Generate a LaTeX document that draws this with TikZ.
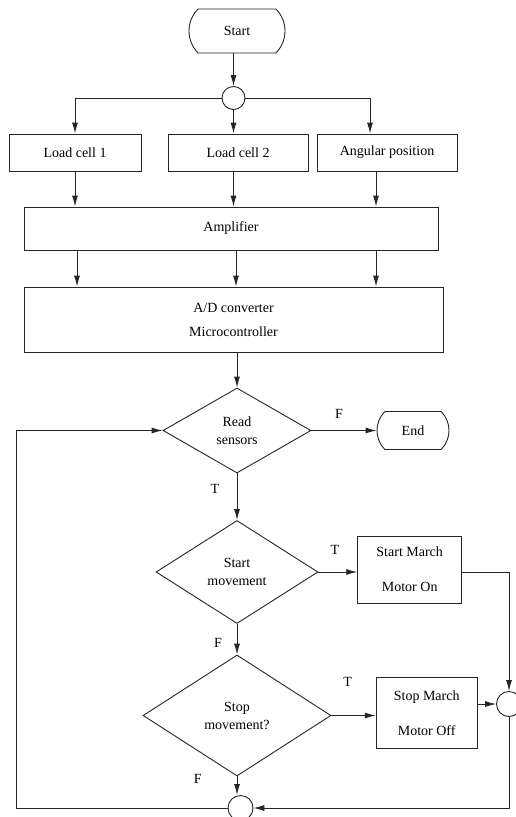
\documentclass[tikz,border=0pt]{standalone}
\usepackage{fontspec}
\setmainfont{Liberation Serif}
\usetikzlibrary{shapes.geometric,shapes.misc,arrows.meta}
\begin{document}
\begin{tikzpicture}[x=1pt,y=-1pt,
  every node/.style={font=\fontsize{14}{18}\selectfont, text=black},
  line/.style={draw=black!85, line width=0.9pt},
  arr/.style={line, -{Latex[length=11pt,width=6pt]}},
  term/.style={rounded rectangle, rounded rectangle arc length=90, draw=black!85, line width=0.9pt, inner sep=0pt},
  box/.style={rectangle, draw=black!85, line width=0.9pt, inner sep=0pt, align=center},
  dec/.style={diamond, draw=black!85, line width=0.9pt, inner sep=0pt, align=center},
  junc/.style={circle, draw=black!85, line width=0.9pt, inner sep=0pt},
  lbl/.style={inner sep=0pt}
]
\useasboundingbox (0,0) rectangle (516,817);

\node[term, minimum width=96pt, minimum height=44pt] (start) at (237,31) {Start};
\node[junc, minimum size=23pt] (j1) at (233.5,98) {};
\node[box, minimum width=132pt, minimum height=37pt] (lc1) at (75,152.5) {Load cell 1};
\node[box, minimum width=140pt, minimum height=37pt] (lc2) at (238,152.5) {Load cell 2};
\node[box, minimum width=140pt, minimum height=37pt] (ang) at (387,152.5) {Angular position};
\node[box, minimum width=414pt, minimum height=43pt] (amp) at (231,228.5) {Amplifier};
\node[box, minimum width=419pt, minimum height=65pt] (adc) at (233.5,319.5) {A/D converter\\[6pt]Microcontroller};
\node[dec, minimum width=148pt, minimum height=85pt] (d1) at (237,430.5) {Read\\sensors};
\node[term, minimum width=72pt, minimum height=38pt] (end) at (413,430.5) {End};
\node[dec, minimum width=162pt, minimum height=103pt] (d2) at (237,572) {Start\\movement};
\node[box, minimum width=104pt, minimum height=67pt] (sm) at (409.7,569.7) {Start March\\[17pt]Motor On};
\node[dec, minimum width=188pt, minimum height=121pt] (d3) at (237,715.5) {Stop\\movement?};
\node[box, minimum width=101pt, minimum height=71pt] (stp) at (426.7,713.3) {Stop March\\[17pt]Motor Off};
\node[junc, minimum size=25pt] (jr) at (509,704) {};
\node[junc, minimum size=25pt] (jb) at (240.5,808) {};
\coordinate (loop) at (16.7,808);

\node[lbl] (f1) at (339,414) {F};
\node[lbl] (t1) at (215,489) {T};
\node[lbl] (t2) at (335,550) {T};
\node[lbl] (f2) at (218,643) {F};
\node[lbl] (t3) at (347.7,681.7) {T};
\node[lbl] (f3) at (197.7,779) {F};

\draw[arr] (j1.north |- start.south) -- (j1.north);
\draw[arr] (j1.west) -| (lc1.north);
\draw[arr] (j1.south) -- (j1.south |- lc2.north);
\draw[arr] (j1.east) -| ([xshift=-17pt]ang.north);
\draw[arr] (lc1.south) -- (lc1.south |- amp.north);
\draw[arr] (lc2.south -| j1) -- (amp.north -| j1);
\draw[arr] ([xshift=-11pt]ang.south) -- ([xshift=-11pt]ang.south |- amp.north);
\draw[arr] ([xshift=-154pt]amp.south) -- ([xshift=-154pt]amp.south |- adc.north);
\draw[arr] ([xshift=5pt]amp.south) -- ([xshift=5pt]amp.south |- adc.north);
\draw[arr] ([xshift=145pt]amp.south) -- ([xshift=145pt]amp.south |- adc.north);
\draw[arr] (adc.south -| d1.north) -- (d1.north);
\draw[arr] (d1.east) -- (end.west);
\draw[arr] (d1.south) -- (d2.north);
\draw[arr] (d2.east) -- (d2.east -| sm.west);
\draw[arr] (sm.east |- d2.east) -| (jr.north);
\draw[arr] (d2.south) -- (d3.north);
\draw[arr] (d3.east) -- (d3.east -| stp.west);
\draw[arr] (stp.east |- jr.west) -- (jr.west);
\draw[arr] (jr.south) |- (jb.east);
\draw[arr] (d3.south) -- (d3.south |- jb.north);
\draw[arr] (jb.west) -- (loop) |- (d1.west);
\end{tikzpicture}
\end{document}
